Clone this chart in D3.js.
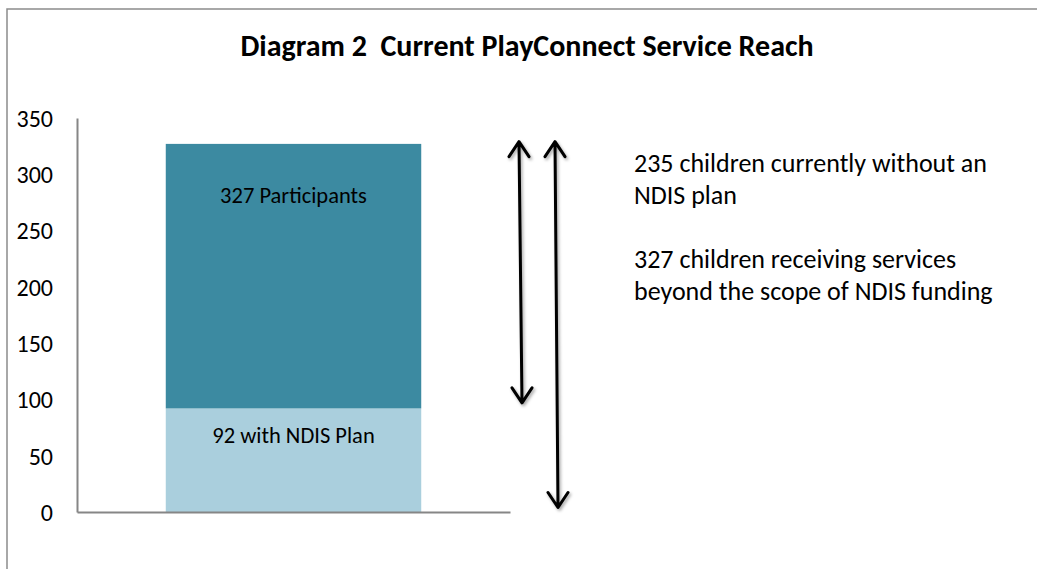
<!DOCTYPE html>
<html>
<head>
<meta charset="utf-8">
<script src="https://cdn.jsdelivr.net/npm/d3@7"></script>
<style>
    body { margin: 0; background: #fff; }
    svg text { font-family: Carlito, Calibri, Lato, sans-serif; fill: #000; }
    .axis path, .axis line { stroke: #868686; }
    .axis text { font-size: 24px; }
    .title { font-size: 30px; font-weight: bold; white-space: pre; }
    .bar-label { font-size: 22.5px; }
    .note { font-size: 26px; }
</style>
</head>
<body>
<svg id="chart" width="1037" height="569"></svg>
<script>
// data
const categories = ['PlayConnect'];
const segments = ['92 with NDIS Plan', '327 Participants'];
const segmentTotals = [92, 327];
const segmentColors = ['#aacfdd', '#3c8aa1'];
const yTicks = [0, 50, 100, 150, 200, 250, 300, 350];
const titleText = 'Diagram 2  Current PlayConnect Service Reach';
// arrow spans in chart units: [top, bottom]
const arrowSpans = [[329, 97], [329, 4]];
const notes = [
    ['235 children currently without an', 'NDIS plan'],
    ['327 children receiving services', 'beyond the scope of NDIS funding']
];

const margin = {top: 118, right: 527, bottom: 57, left: 77};
const svg = d3.select('#chart');
const width = +svg.attr('width') - margin.left - margin.right;
const height = +svg.attr('height') - margin.top - margin.bottom;

// outer frame (only top/left visible in the picture)
svg.append('path')
    .attr('d', 'M7,569V9H1037')
    .attr('fill', 'none')
    .attr('stroke', '#8c8c8c')
    .attr('stroke-width', 1.5);

svg.append('text')
    .attr('class', 'title')
    .attr('x', 527)
    .attr('y', 56)
    .attr('text-anchor', 'middle')
    .text(titleText);

const g = svg.append('g').attr('transform', 'translate(' + margin.left + ',' + margin.top + ')');

const x = d3.scaleBand().domain(categories).range([0, width]).paddingInner(0.41).paddingOuter(0.205);
const y = d3.scaleLinear().domain([0, 350]).range([height, 0]);

// stacked segments: each segment starts where the previous total ended
const stackData = segmentTotals.map((v, i) => ({
    label: segments[i],
    y0: i === 0 ? 0 : segmentTotals[i - 1],
    y1: v,
    color: segmentColors[i]
}));
const labelOffsets = [35, 59];

g.selectAll('rect.seg')
    .data(stackData)
    .enter()
    .append('rect')
        .attr('class', 'seg')
        .attr('x', x(categories[0]))
        .attr('width', x.bandwidth())
        .attr('y', d => y(d.y1))
        .attr('height', d => y(d.y0) - y(d.y1))
        .attr('fill', d => d.color);

g.selectAll('text.bar-label')
    .data(stackData)
    .enter()
    .append('text')
        .attr('class', 'bar-label')
        .attr('x', x(categories[0]) + x.bandwidth() / 2)
        .attr('y', (d, i) => y(d.y1) + labelOffsets[i])
        .attr('text-anchor', 'middle')
        .text(d => d.label);

const yAxis = g.append('g')
    .attr('class', 'y axis')
    .call(d3.axisLeft(y).tickValues(yTicks).tickSize(0).tickPadding(24));
yAxis.select('.domain').attr('stroke-width', 2);
yAxis.selectAll('text').attr('dy', '0.35em');

const xAxis = g.append('g')
    .attr('class', 'x axis')
    .attr('transform', 'translate(0,' + height + ')')
    .call(d3.axisBottom(x).tickSize(0).tickFormat(''));
xAxis.select('.domain').attr('stroke-width', 2);

// double-headed arrows
const defs = svg.append('defs');
const shadow = defs.append('filter').attr('id', 'shadow').attr('x', '-50%').attr('y', '-10%').attr('width', '200%').attr('height', '120%');
shadow.append('feDropShadow').attr('dx', 1.5).attr('dy', 2).attr('stdDeviation', 1.5).attr('flood-color', '#000').attr('flood-opacity', 0.35);

const arrowX = [[442, 445], [478, 481]];
const head = {w: 10, h: 15};
const arrows = g.append('g').attr('class', 'arrows').attr('filter', 'url(#shadow)');
arrowSpans.forEach((s, i) => {
    const x0 = arrowX[i][0], x1 = arrowX[i][1];
    const yt = y(s[0]), yb = y(s[1]);
    const path = d3.path();
    path.moveTo(x0, yt); path.lineTo(x1, yb);
    path.moveTo(x0 - head.w, yt + head.h); path.lineTo(x0, yt); path.lineTo(x0 + head.w, yt + head.h);
    path.moveTo(x1 - head.w, yb - head.h); path.lineTo(x1, yb); path.lineTo(x1 + head.w, yb - head.h);
    arrows.append('path')
        .attr('d', path.toString())
        .attr('fill', 'none')
        .attr('stroke', '#000')
        .attr('stroke-width', 3)
        .attr('stroke-linecap', 'round')
        .attr('stroke-linejoin', 'round');
});

// notes on the right
const noteG = svg.append('g').attr('class', 'notes');
notes.forEach((lines, i) => {
    const t = noteG.append('text').attr('class', 'note').attr('x', 634).attr('y', 172 + i * 96);
    lines.forEach((l, j) => {
        t.append('tspan').attr('x', 634).attr('dy', j === 0 ? 0 : 32).text(l);
    });
});
</script>
</body>
</html>
